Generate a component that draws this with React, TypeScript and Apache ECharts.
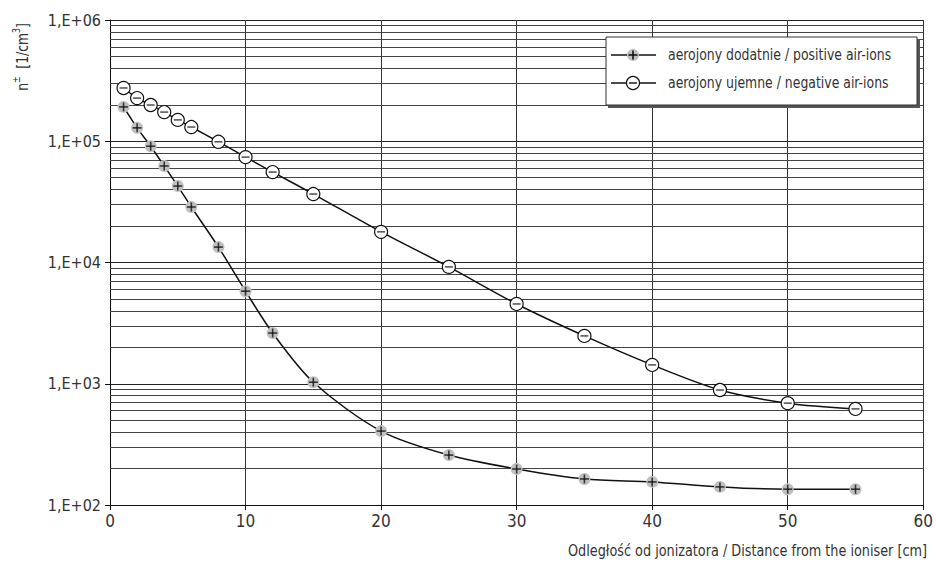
import React, { useEffect, useRef } from "react";
import * as echarts from "echarts";

const distances = [1, 2, 3, 4, 5, 6, 8, 10, 12, 15, 20, 25, 30, 35, 40, 45, 50, 55];
const positiveIons = [192000, 129000, 91000, 62500, 42700, 28700, 13400, 5800, 2620, 1030, 407, 258, 198, 164, 155, 141, 135, 135];
const negativeIons = [275000, 227000, 199000, 174000, 150000, 131000, 99000, 74000, 55700, 36700, 17900, 9200, 4550, 2480, 1430, 888, 692, 620];
const xTicks = [0, 10, 20, 30, 40, 50, 60];
const decades = [2, 3, 4, 5, 6];
const legendLabels = ["aerojony dodatnie / positive air-ions", "aerojony ujemne / negative air-ions"];
const xAxisTitle = "Odległość od jonizatora / Distance from the ioniser [cm]";

const FONT = "'DejaVu Sans Condensed', sans-serif";

export default function App() {
  const ref = useRef<HTMLDivElement>(null);
  useEffect(() => {
    if (!ref.current) return;
    const chart = echarts.init(ref.current, undefined, { renderer: "svg" });
    const pos = distances.map((d, i) => [d, positiveIons[i]]);
    const neg = distances.map((d, i) => [d, negativeIons[i]]);
    const minorLines: any[] = [];
    decades.slice(0, -1).forEach((e) => {
      for (let k = 2; k <= 9; k++) minorLines.push({ yAxis: k * Math.pow(10, e) });
    });

    const lx = 611, lcx = 633, lrx = 656;
    const ly1 = 55, ly2 = 83;
    const legend = {
      type: "group",
      children: [
        { type: "rect", shape: { x: 608, y: 39, width: 312, height: 69 }, style: { fill: "#555" }, z: 100 },
        { type: "rect", shape: { x: 606, y: 37, width: 311, height: 68 }, style: { fill: "#fff", stroke: "#333", lineWidth: 1 }, z: 101 },
        { type: "line", shape: { x1: lx, y1: ly1, x2: lrx, y2: ly1 }, style: { stroke: "#111", lineWidth: 1.5 }, z: 102 },
        { type: "circle", shape: { cx: lcx, cy: ly1, r: 6 }, style: { fill: "#c0c0c0" }, z: 103 },
        { type: "rect", shape: { x: lcx - 4.5, y: ly1 - 0.8, width: 9, height: 1.6 }, style: { fill: "#111" }, z: 104 },
        { type: "rect", shape: { x: lcx - 0.8, y: ly1 - 4.5, width: 1.6, height: 9 }, style: { fill: "#111" }, z: 104 },
        { type: "text", x: 668, y: ly1, scaleX: 0.84, style: { text: legendLabels[0], font: `16.5px ${FONT}`, fill: "#333", verticalAlign: "middle" }, z: 104 },
        { type: "line", shape: { x1: lx, y1: ly2, x2: lrx, y2: ly2 }, style: { stroke: "#111", lineWidth: 1.5 }, z: 102 },
        { type: "circle", shape: { cx: lcx, cy: ly2, r: 6.5 }, style: { fill: "#fff", stroke: "#111", lineWidth: 1.2 }, z: 103 },
        { type: "rect", shape: { x: lcx - 4, y: ly2 - 0.7, width: 8, height: 1.4 }, style: { fill: "#111" }, z: 104 },
        { type: "text", x: 668, y: ly2, scaleX: 0.84, style: { text: legendLabels[1], font: `16.5px ${FONT}`, fill: "#333", verticalAlign: "middle" }, z: 104 },
      ],
    };

    chart.setOption({
      animation: false,
      backgroundColor: "#fff",
      grid: { left: 110, right: 9, top: 20, bottom: 62, containLabel: false },
      xAxis: {
        type: "value",
        min: xTicks[0],
        max: xTicks[xTicks.length - 1],
        interval: 10,
        axisLine: { lineStyle: { color: "#111", width: 1 } },
        axisTick: { show: true, length: 5, lineStyle: { color: "#111" } },
        axisLabel: { color: "#333", fontSize: 17, fontFamily: FONT, margin: 7 },
        splitLine: { show: true, lineStyle: { color: "#333", width: 1 } },
      },
      yAxis: {
        type: "log",
        logBase: 10,
        min: 100,
        max: 1000000,
        axisLine: { show: true, lineStyle: { color: "#111", width: 1 } },
        axisTick: { show: true, length: 5, lineStyle: { color: "#111" } },
        axisLabel: {
          color: "#333",
          fontSize: 16,
          fontFamily: FONT,
          margin: 9,
          formatter: (v: number) => "1,E+" + String(Math.round(Math.log10(v))).padStart(2, "0"),
        },
        splitLine: { show: true, lineStyle: { color: "#222", width: 1 } },
      },
      graphic: [
        legend,
        {
          type: "text",
          x: 21,
          y: 57,
          rotation: Math.PI / 2,
          scaleX: 0.86,
          style: {
            text: "{n|n}{s|±}{n|  [1/cm}{s|3}{n|]}",
            align: "center",
            verticalAlign: "middle",
            rich: {
              n: { font: `16px ${FONT}`, fill: "#333", lineHeight: 20, verticalAlign: "bottom" },
              s: { font: `10px ${FONT}`, fill: "#333", lineHeight: 20, verticalAlign: "top" },
            },
          },
        },
        {
          type: "text",
          x: 927,
          y: 551,
          scaleX: 0.865,
          style: { text: xAxisTitle, font: `16.5px ${FONT}`, fill: "#333", align: "right", verticalAlign: "middle" },
        },
      ],
      series: [
        {
          type: "line",
          data: pos,
          smooth: 0.3,
          symbol: "circle",
          symbolSize: 12,
          itemStyle: { color: "#c0c0c0" },
          lineStyle: { color: "#111", width: 1.5 },
          z: 3,
          markLine: {
            silent: true,
            symbol: "none",
            label: { show: false },
            lineStyle: { color: "#444", width: 1, type: "solid" },
            data: minorLines,
            z: 1,
          },
        },
        { type: "scatter", data: pos, symbol: "rect", symbolSize: [9, 1.6], itemStyle: { color: "#111" }, z: 4 },
        { type: "scatter", data: pos, symbol: "rect", symbolSize: [1.6, 9], itemStyle: { color: "#111" }, z: 4 },
        {
          type: "line",
          data: neg,
          smooth: 0.3,
          symbol: "circle",
          symbolSize: 13,
          itemStyle: { color: "#fff", borderColor: "#111", borderWidth: 1.2 },
          lineStyle: { color: "#111", width: 1.5 },
          z: 3,
        },
        { type: "scatter", data: neg, symbol: "rect", symbolSize: [8, 1.4], itemStyle: { color: "#111" }, z: 4 },
      ],
    });
    return () => chart.dispose();
  }, []);
  return <div ref={ref} style={{ width: 936, height: 567, position: "absolute", left: 0, top: 0 }} />;
}
